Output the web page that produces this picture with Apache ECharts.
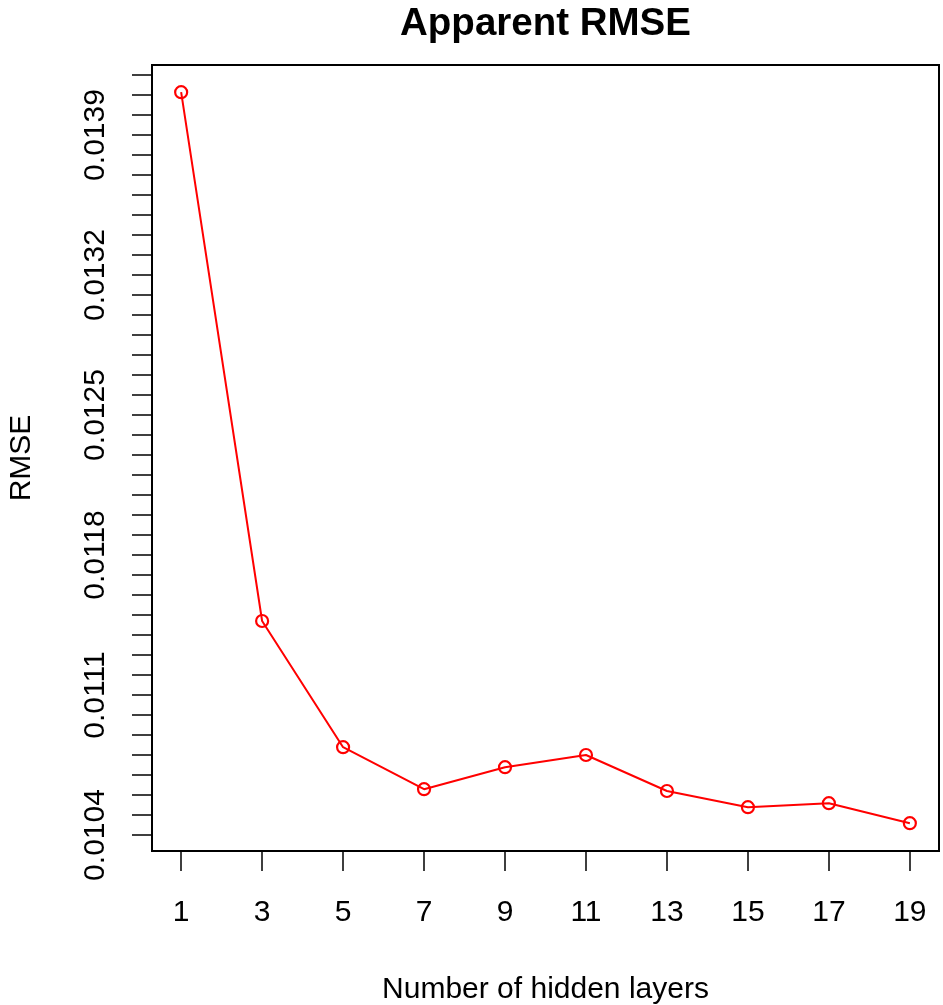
<!DOCTYPE html>
<html>
<head>
<meta charset="utf-8">
<script src="https://cdn.jsdelivr.net/npm/echarts@6/dist/echarts.min.js"></script>
<style>html,body{margin:0;padding:0;background:#fff}#c{width:943px;height:1005px}</style>
</head>
<body>
<div id="c"></div>
<script>
var hiddenLayers = [1, 3, 5, 7, 9, 11, 13, 15, 17, 19];
var rmseValues = [0.014114, 0.01147, 0.010839, 0.010629, 0.010739, 0.0108, 0.01062, 0.010539, 0.010559, 0.010459];
var xTickValues = [1, 3, 5, 7, 9, 11, 13, 15, 17, 19];
var yLabelValues = [0.0104, 0.0111, 0.0118, 0.0125, 0.0132, 0.0139];
var yTickValues = [0.0104, 0.0105, 0.0106, 0.0107, 0.0108, 0.0109, 0.0110, 0.0111, 0.0112, 0.0113,
  0.0114, 0.0115, 0.0116, 0.0117, 0.0118, 0.0119, 0.0120, 0.0121, 0.0122, 0.0123,
  0.0124, 0.0125, 0.0126, 0.0127, 0.0128, 0.0129, 0.0130, 0.0131, 0.0132, 0.0133,
  0.0134, 0.0135, 0.0136, 0.0137, 0.0138, 0.0139, 0.0140, 0.0141, 0.0142];

var font = 'Liberation Sans, Arial, Helvetica, sans-serif';
var chart = echarts.init(document.getElementById('c'), null, {renderer: 'canvas'});
var points = hiddenLayers.map(function (x, i) { return [x, rmseValues[i]]; });

chart.setOption({
  backgroundColor: '#ffffff',
  animation: false,
  title: {
    text: 'Apparent RMSE',
    left: 540.5,
    textAlign: 'center',
    top: 0,
    textStyle: {fontFamily: font, fontSize: 38.5, fontWeight: 'bold', color: '#000'}
  },
  grid: {
    left: 152, right: 4, top: 65, bottom: 154,
    containLabel: false,
    outerBoundsMode: 'none',
    show: true, borderColor: '#000', borderWidth: 2, backgroundColor: 'transparent'
  },
  xAxis: {
    type: 'value',
    min: 0.28, max: 19.72,
    name: 'Number of hidden layers',
    nameLocation: 'middle',
    nameGap: 124,
    nameTextStyle: {fontFamily: font, fontSize: 30, color: '#000', verticalAlign: 'top'},
    axisLine: {show: false},
    splitLine: {show: false},
    axisTick: {show: true, customValues: xTickValues, length: 20, lineStyle: {color: '#000', width: 1.5}},
    axisLabel: {customValues: xTickValues, margin: 47, fontFamily: font, fontSize: 30, color: '#000'}
  },
  yAxis: {
    type: 'value',
    min: 0.01032, max: 0.01425,
    name: 'RMSE',
    nameLocation: 'middle',
    nameRotate: 90,
    nameGap: 115,
    nameTextStyle: {fontFamily: font, fontSize: 30, color: '#000'},
    axisLine: {show: false},
    splitLine: {show: false},
    axisTick: {show: true, customValues: yTickValues, length: 20, lineStyle: {color: '#000', width: 1.5}},
    axisLabel: {
      customValues: yLabelValues, rotate: 90, margin: 41,
      fontFamily: font, fontSize: 30, color: '#000',
      formatter: function (v) { return v.toFixed(4); }
    }
  },
  series: [{
    type: 'line',
    data: points,
    symbol: 'circle',
    symbolSize: 12,
    lineStyle: {color: '#ff0000', width: 2},
    itemStyle: {color: 'rgba(0,0,0,0)', borderColor: '#ff0000', borderWidth: 2.2},
    z: 3
  }]
});
</script>
</body>
</html>
